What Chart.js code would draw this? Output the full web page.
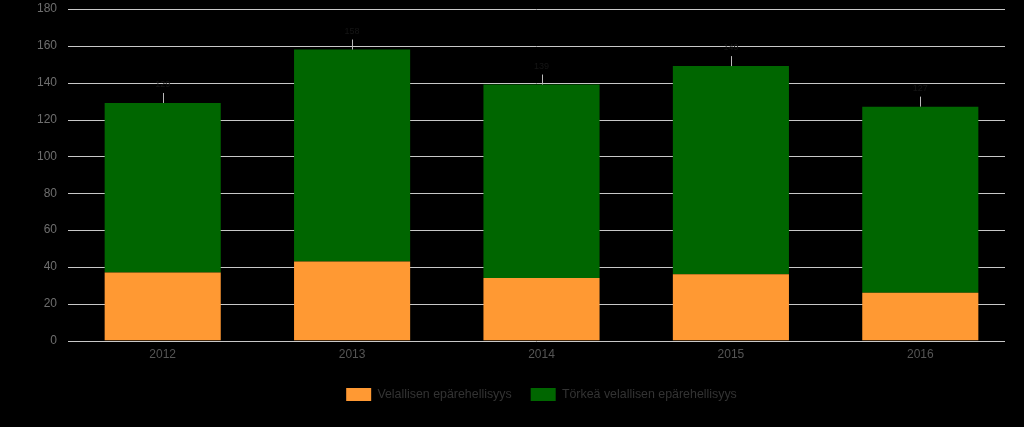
<!DOCTYPE html>
<html>
<head>
<meta charset="utf-8">
<script src="https://cdn.jsdelivr.net/npm/chart.js@4"></script>
<style>
  html, body { margin: 0; padding: 0; background: #000; }
  #wrap { width: 1024px; height: 427px; }
</style>
</head>
<body>
<div id="wrap"><canvas id="chart"></canvas></div>
<script>
// data
const years = ["2012", "2013", "2014", "2015", "2016"];
const velallisen = [37, 43, 34, 36, 26];
const torkea = [92, 115, 105, 113, 101];
const yTicks = [0, 20, 40, 60, 80, 100, 120, 140, 160, 180];

// gridlines stop a little before the right edge of the plot
const gridPlugin = {
    id: "grid",
    beforeDatasetsDraw(chart) {
        const ctx = chart.ctx;
        const y = chart.scales.y;
        const area = chart.chartArea;
        ctx.save();
        ctx.strokeStyle = "#c8c8c8";
        ctx.lineWidth = 1;
        yTicks.forEach(v => {
            const py = Math.round(y.getPixelForValue(v)) + 0.5;
            ctx.beginPath();
            ctx.moveTo(area.left, py);
            ctx.lineTo(area.right - 10, py);
            ctx.stroke();
        });
        ctx.restore();
    }
};

// legend is centred under the plot, not the whole canvas
const legendCenter = {
    id: "legendCenter",
    afterLayout(chart) {
        const lg = chart.legend;
        const area = chart.chartArea;
        const shift = (area.left + area.right) / 2 - (lg.left + lg.right) / 2;
        lg.left += shift;
        lg.right += shift;
        lg.legendHitBoxes.forEach(b => { b.left += shift; });
    }
};

// total labels + small leader line above each stack
const totalsPlugin = {
    id: "totals",
    afterDatasetsDraw(chart) {
        const ctx = chart.ctx;
        const meta = chart.getDatasetMeta(1);
        ctx.save();
        meta.data.forEach((bar, i) => {
            const total = velallisen[i] + torkea[i];
            ctx.strokeStyle = "#bbbbbb";
            ctx.lineWidth = 1;
            ctx.beginPath();
            ctx.moveTo(Math.round(bar.x) + 0.5, bar.y);
            ctx.lineTo(Math.round(bar.x) + 0.5, bar.y - 10);
            ctx.stroke();
            ctx.fillStyle = "#151515";
            ctx.font = "9px 'Liberation Sans', Arial, sans-serif";
            ctx.textAlign = "center";
            ctx.textBaseline = "bottom";
            ctx.fillText(String(total), bar.x, bar.y - 14);
        });
        ctx.restore();
    }
};

const font = { family: "'Liberation Sans', Arial", size: 12 };

new Chart(document.getElementById("chart"), {
    type: "bar",
    data: {
        labels: years,
        datasets: [{
            label: "Velallisen epärehellisyys",
            data: velallisen,
            backgroundColor: "#ff9933",
            categoryPercentage: 1,
            barPercentage: 0.613
        }, {
            label: "Törkeä velallisen epärehellisyys",
            data: torkea,
            backgroundColor: "#006600",
            categoryPercentage: 1,
            barPercentage: 0.613
        }]
    },
    options: {
        responsive: true,
        maintainAspectRatio: false,
        animation: false,
        layout: { padding: { top: 0, right: 9, left: 0, bottom: 16 } },
        scales: {
            x: {
                stacked: true,
                grid: { display: false, drawTicks: false },
                border: { display: false },
                ticks: { color: "#555555", font: font, padding: 7 }
            },
            y: {
                stacked: true,
                min: 0,
                max: 180,
                afterBuildTicks(axis) { axis.ticks = yTicks.map(v => ({ value: v })); },
                afterFit(axis) {
                    axis.width = 68;
                    axis.paddingTop = 9;
                    axis.paddingBottom = 0;
                },
                grid: { display: false, drawTicks: false },
                border: { display: false },
                ticks: { color: "#6e6e6e", font: font, padding: 11 }
            }
        },
        plugins: {
            legend: {
                position: "bottom",
                labels: {
                    color: "#333333",
                    font: { family: "'Liberation Sans', Arial", size: 12.4 },
                    boxWidth: 25,
                    boxHeight: 13,
                    padding: 19
                }
            },
            tooltip: { enabled: false }
        }
    },
    plugins: [gridPlugin, legendCenter, totalsPlugin]
});
</script>
</body>
</html>
